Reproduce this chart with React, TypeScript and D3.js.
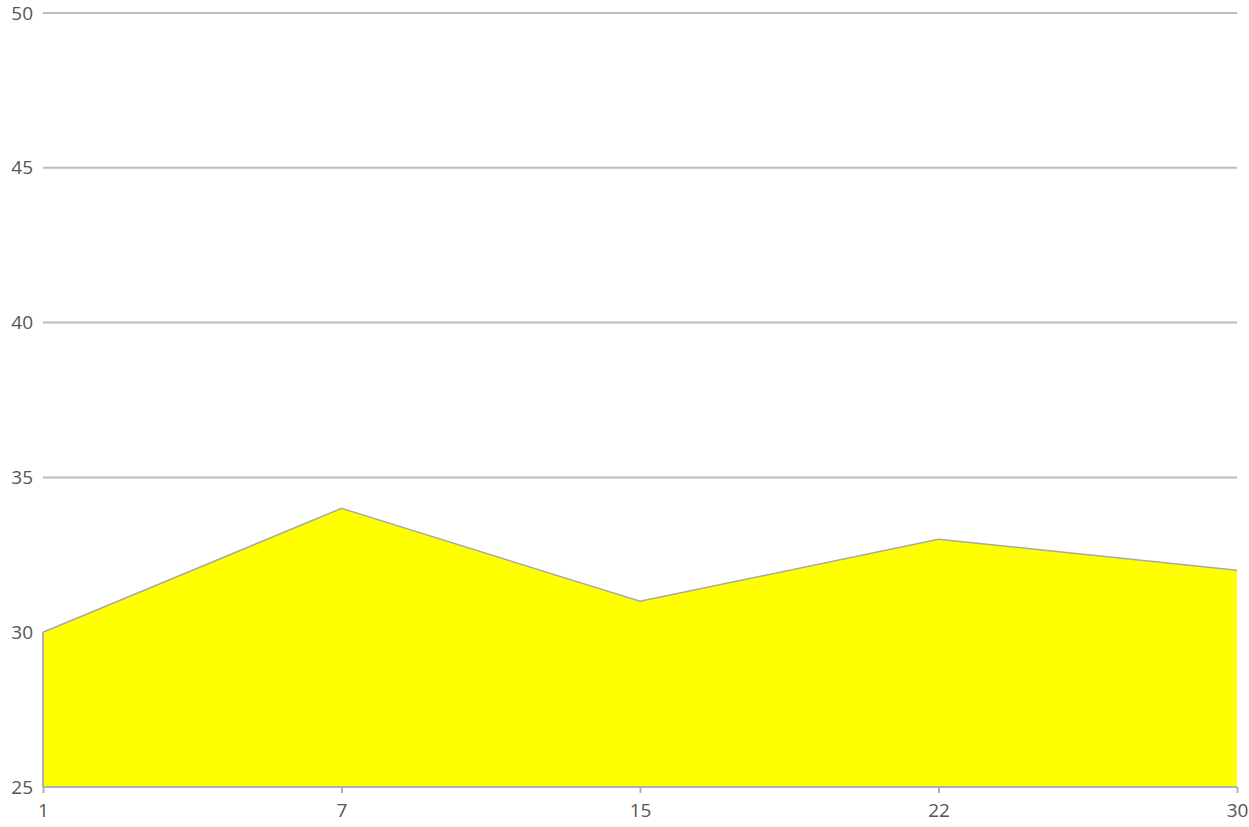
import React, { useEffect, useRef } from 'react';
import * as d3 from 'd3';

const days = ['1', '7', '15', '22', '30'];
const values = [30, 34, 31, 33, 32];
const yTicks = [25, 30, 35, 40, 45, 50];

const AreaChart = () => {
  const svgRef = useRef<SVGSVGElement>(null);

  useEffect(() => {
    const width = 1249;
    const height = 827;
    const margin = { top: 13, right: 12, bottom: 40, left: 43 };

    const svg = d3.select(svgRef.current);
    svg.selectAll('*').remove();
    svg.attr('width', width).attr('height', height);

    const x = d3.scalePoint<string>()
      .domain(days)
      .range([margin.left, width - margin.right]);

    const y = d3.scaleLinear()
      .domain([25, 50])
      .range([height - margin.bottom, margin.top]);

    const data = days.map((d, i) => ({ day: d, value: values[i] }));

    // grid lines
    svg.append('g')
      .selectAll('line')
      .data(yTicks.filter(t => t > 25))
      .enter()
      .append('line')
      .attr('x1', margin.left)
      .attr('x2', width - margin.right)
      .attr('y1', d => y(d))
      .attr('y2', d => y(d))
      .style('stroke', '#bcbcbc')
      .style('stroke-width', 2);

    const area = d3.area<{ day: string; value: number }>()
      .x(d => x(d.day) as number)
      .y0(y(25))
      .y1(d => y(d.value));

    const line = d3.line<{ day: string; value: number }>()
      .x(d => x(d.day) as number)
      .y(d => y(d.value));

    svg.append('path')
      .datum(data)
      .attr('d', area)
      .style('fill', '#ffff00');

    svg.append('path')
      .datum(data)
      .attr('d', line)
      .style('fill', 'none')
      .style('stroke', '#a8a8a8')
      .style('stroke-width', 1.5);

    // axes
    const xAxis = svg.append('g')
      .attr('transform', `translate(0,${y(25)})`)
      .call(d3.axisBottom(x).tickSize(6).tickPadding(11));
    xAxis.select('.domain').remove();
    xAxis.append('line')
      .attr('x1', margin.left)
      .attr('x2', width - margin.right)
      .style('stroke', '#b0b0b0')
      .style('stroke-width', 2);
    xAxis.selectAll('.tick line').style('stroke', '#b0b0b0').style('stroke-width', 2);

    const yAxis = svg.append('g')
      .attr('transform', `translate(${margin.left},0)`)
      .call(d3.axisLeft(y).tickValues(yTicks).tickSize(0).tickPadding(10));
    yAxis.select('.domain').remove();
    yAxis.append('line')
      .attr('y1', y(25))
      .attr('y2', y(30))
      .style('stroke', '#b0b0b0')
      .style('stroke-width', 2);

    svg.selectAll('.tick text')
      .style('font-family', '"Open Sans", sans-serif')
      .style('font-size', '19px')
      .style('fill', '#555');
  }, []);

  return <svg ref={svgRef} style={{ position: 'absolute', left: 0, top: 0 }}></svg>;
};

export default function App() {
  return <AreaChart />;
}
